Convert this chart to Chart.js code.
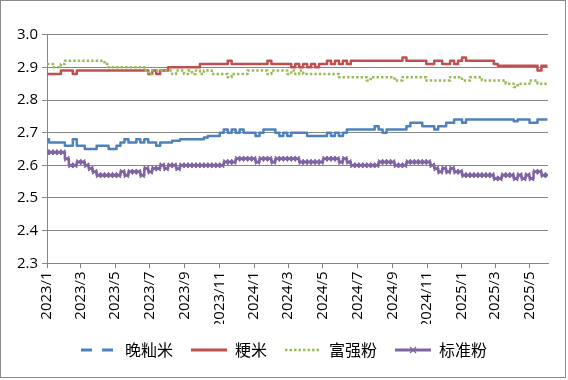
<!DOCTYPE html>
<html><head><meta charset="utf-8">
<script src="https://cdn.jsdelivr.net/npm/chart.js@4.4.1/dist/chart.umd.min.js"></script>
<style>html,body{margin:0;padding:0;background:#fff;}</style>
</head><body>
<canvas id="c" width="568" height="380"></canvas>
<script>
// Series names (legend order)
const seriesNames = ['晚籼米', '粳米', '富强粉', '标准粉'];
// Weekly readings starting 2023/1/1 (one value per 7 days)
const sampleStepDays = 7;
const wanXianMi = [
2.68,2.67,2.67,2.67,2.67,2.66,2.66,2.68,2.66,2.66,
2.65,2.65,2.65,2.66,2.66,2.66,2.65,2.65,2.66,2.67,
2.68,2.67,2.67,2.68,2.67,2.68,2.67,2.67,2.66,2.67,
2.67,2.67,2.675,2.675,2.68,2.68,2.68,2.68,2.68,2.68,
2.685,2.69,2.69,2.69,2.70,2.71,2.70,2.71,2.70,2.71,
2.70,2.70,2.70,2.69,2.70,2.71,2.71,2.71,2.70,2.69,
2.70,2.69,2.70,2.70,2.70,2.70,2.69,2.69,2.69,2.69,
2.69,2.70,2.69,2.70,2.69,2.70,2.71,2.71,2.71,2.71,
2.71,2.71,2.71,2.72,2.71,2.70,2.71,2.71,2.71,2.71,
2.71,2.72,2.73,2.73,2.73,2.72,2.72,2.72,2.71,2.72,
2.72,2.73,2.73,2.74,2.74,2.73,2.74,2.74,2.74,2.74,
2.74,2.74,2.74,2.74,2.74,2.74,2.74,2.74,2.735,2.74,
2.74,2.74,2.73,2.73,2.74,2.74,2.74];
const jingMi = [
2.88,2.88,2.88,2.88,2.89,2.89,2.89,2.88,2.89,2.89,
2.89,2.89,2.89,2.89,2.89,2.89,2.89,2.89,2.89,2.89,
2.89,2.89,2.89,2.89,2.89,2.89,2.88,2.89,2.88,2.89,
2.89,2.90,2.90,2.90,2.90,2.90,2.90,2.90,2.90,2.91,
2.91,2.91,2.91,2.91,2.91,2.91,2.92,2.91,2.91,2.91,
2.91,2.91,2.91,2.91,2.91,2.91,2.92,2.91,2.91,2.91,
2.91,2.91,2.90,2.91,2.90,2.91,2.90,2.91,2.90,2.91,
2.91,2.92,2.91,2.92,2.91,2.92,2.91,2.92,2.92,2.92,
2.92,2.92,2.92,2.92,2.92,2.92,2.92,2.92,2.92,2.92,
2.93,2.92,2.92,2.92,2.92,2.92,2.91,2.91,2.92,2.92,
2.91,2.91,2.92,2.91,2.92,2.93,2.92,2.92,2.92,2.92,
2.92,2.92,2.92,2.91,2.905,2.905,2.905,2.905,2.905,2.905,
2.905,2.905,2.905,2.905,2.89,2.905,2.905];
const fuQiangFen = [
2.91,2.91,2.90,2.90,2.91,2.92,2.92,2.92,2.92,2.92,
2.92,2.92,2.92,2.92,2.92,2.91,2.90,2.90,2.90,2.90,
2.90,2.90,2.90,2.90,2.90,2.89,2.88,2.89,2.89,2.89,
2.89,2.89,2.88,2.89,2.89,2.88,2.89,2.88,2.89,2.88,
2.89,2.89,2.88,2.88,2.88,2.88,2.87,2.88,2.88,2.88,
2.88,2.89,2.89,2.89,2.89,2.89,2.88,2.89,2.89,2.89,
2.89,2.88,2.89,2.88,2.89,2.88,2.88,2.88,2.88,2.88,
2.88,2.88,2.88,2.88,2.87,2.87,2.87,2.87,2.87,2.87,
2.87,2.86,2.87,2.87,2.87,2.87,2.87,2.87,2.86,2.86,
2.87,2.87,2.87,2.87,2.87,2.87,2.86,2.86,2.86,2.86,
2.86,2.86,2.87,2.87,2.87,2.86,2.86,2.87,2.87,2.87,
2.86,2.86,2.86,2.86,2.86,2.86,2.85,2.85,2.84,2.85,
2.85,2.85,2.86,2.86,2.85,2.85,2.85];
const biaoZhunFen = [
2.64,2.64,2.64,2.64,2.64,2.62,2.60,2.60,2.61,2.61,
2.60,2.59,2.58,2.57,2.57,2.57,2.57,2.57,2.57,2.58,
2.57,2.58,2.58,2.58,2.57,2.59,2.58,2.59,2.59,2.60,
2.59,2.60,2.60,2.59,2.60,2.60,2.60,2.60,2.60,2.60,
2.60,2.60,2.60,2.60,2.60,2.61,2.61,2.61,2.62,2.62,
2.62,2.62,2.62,2.61,2.62,2.62,2.62,2.61,2.62,2.62,
2.62,2.62,2.62,2.62,2.61,2.61,2.61,2.61,2.61,2.61,
2.62,2.62,2.62,2.62,2.61,2.62,2.61,2.60,2.60,2.60,
2.60,2.60,2.60,2.60,2.61,2.61,2.61,2.61,2.60,2.60,
2.60,2.61,2.61,2.61,2.61,2.61,2.61,2.60,2.59,2.58,
2.59,2.58,2.59,2.58,2.58,2.57,2.57,2.57,2.57,2.57,
2.57,2.57,2.57,2.56,2.56,2.57,2.57,2.57,2.56,2.57,
2.56,2.57,2.56,2.58,2.58,2.57,2.57];
// X-axis tick labels and their day offsets from 2023/1/1
const tickLabels = ['2023/1','2023/3','2023/5','2023/7','2023/9','2023/11','2024/1','2024/3','2024/5','2024/7','2024/9','2024/11','2025/1','2025/3','2025/5'];
const tickDays = [0,59,120,181,243,304,365,425,486,547,609,670,731,790,851];
const lastDay = 883;
const yTickValues = [2.3,2.4,2.5,2.6,2.7,2.8,2.9,3.0];

const toPoints = arr => arr.map((v, i) => ({ x: i * sampleStepDays, y: v }));
const GRID = '#868686';
const numFont = { family: '"Open Sans", "Noto Sans", sans-serif', size: 15 };

const base = { fill: false, stepped: 'middle', pointRadius: 0, pointHoverRadius: 0, borderJoinStyle: 'round' };
const datasets = [
  Object.assign({}, base, { label: seriesNames[3], data: toPoints(biaoZhunFen), borderColor: '#8064A2', backgroundColor: '#8064A2', borderWidth: 2.5,
    pointRadius: 3.5, pointStyle: 'crossRot', pointBorderWidth: 1.5, pointBorderColor: '#8064A2', legendDash: [], legendWidth: 3 }),
  Object.assign({}, base, { label: seriesNames[2], data: toPoints(fuQiangFen), borderColor: '#9BBB59', backgroundColor: '#9BBB59', borderWidth: 2.5,
    borderDash: [2.5, 2], legendDash: [2.5, 2], legendWidth: 2.5 }),
  Object.assign({}, base, { label: seriesNames[1], data: toPoints(jingMi), borderColor: '#C0504D', backgroundColor: '#C0504D', borderWidth: 2.5,
    legendDash: [], legendWidth: 3 }),
  Object.assign({}, base, { label: seriesNames[0], data: toPoints(wanXianMi), borderColor: '#4F81BD', backgroundColor: '#4F81BD', borderWidth: 2.5,
    legendDash: [11, 10], legendWidth: 3 })
];

const frame = {
  id: 'frame',
  beforeDraw(chart) {
    const ctx = chart.ctx;
    ctx.save();
    ctx.fillStyle = '#fff';
    ctx.fillRect(0, 0, chart.width, chart.height);
    ctx.strokeStyle = '#898989';
    ctx.lineWidth = 1;
    ctx.strokeRect(0.5, 0.5, 565, 377);
    ctx.restore();
  },
  afterDraw(chart) {
    const lg = chart.legend;
    if (!lg || !lg.legendHitBoxes) return;
    const idx = lg.legendItems.findIndex(it => it.text === seriesNames[3]);
    const hb = lg.legendHitBoxes[idx];
    if (!hb) return;
    const cx = hb.left + 18, cy = hb.top + hb.height / 2, r = 3;
    const ctx = chart.ctx;
    ctx.save();
    ctx.strokeStyle = '#8064A2';
    ctx.lineWidth = 1.3;
    ctx.beginPath();
    ctx.moveTo(cx - r, cy - r); ctx.lineTo(cx + r, cy + r);
    ctx.moveTo(cx - r, cy + r); ctx.lineTo(cx + r, cy - r);
    ctx.stroke();
    ctx.restore();
  }
};

new Chart(document.getElementById('c'), {
  type: 'line',
  data: { datasets },
  plugins: [frame],
  options: {
    responsive: false,
    animation: false,
    devicePixelRatio: 1,
    layout: { padding: { left: 3, right: 3, top: 34.7, bottom: 12 } },
    scales: {
      x: {
        type: 'linear', min: 0, max: lastDay,
        afterBuildTicks: s => { s.ticks = tickDays.map(v => ({ value: v })); },
        afterFit: s => { s.height = 60.7; },
        ticks: { autoSkip: false, minRotation: 90, maxRotation: 90, padding: 3, color: '#000', font: numFont,
          callback: (v, i) => tickLabels[i] },
        grid: { drawOnChartArea: false, drawTicks: true, tickLength: 5, color: GRID },
        border: { color: GRID, width: 1 }
      },
      y: {
        min: 2.3, max: 3.0,
        afterBuildTicks: s => { s.ticks = yTickValues.map(v => ({ value: v })); },
        afterFit: s => { s.width = 44; },
        ticks: { padding: 4, color: '#000', font: numFont, callback: v => Number(v).toFixed(1) },
        grid: { color: GRID, tickLength: 5 },
        border: { color: GRID, width: 1 }
      },
      y2: {
        position: 'right', display: true,
        grid: { display: false }, ticks: { display: false }, border: { display: false },
        afterFit: s => { s.width = 17; }
      }
    },
    plugins: {
      tooltip: { enabled: false },
      legend: {
        position: 'bottom', reverse: true,
        labels: {
          usePointStyle: true, pointStyle: 'line', pointStyleWidth: 36, padding: 18,
          color: '#000', font: { family: '"Noto Sans CJK SC", sans-serif', size: 16 },
          generateLabels(chart) {
            const items = Chart.defaults.plugins.legend.labels.generateLabels(chart);
            items.forEach(it => {
              const ds = chart.data.datasets[it.datasetIndex];
              it.strokeStyle = ds.borderColor;
              it.fillStyle = ds.borderColor;
              it.lineWidth = ds.legendWidth;
              it.lineDash = ds.legendDash;
              it.lineCap = 'butt';
              it.pointStyle = 'line';
            });
            return items;
          }
        }
      }
    }
  }
});
</script>
</body></html>
